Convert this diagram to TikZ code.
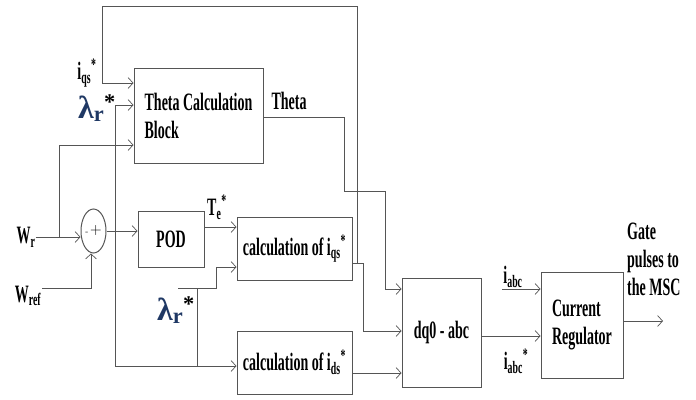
\documentclass[tikz,border=0pt]{standalone}
\usepackage{fontspec}
\newfontfamily\blockfont{Liberation Serif}[FakeStretch=0.56]
\newfontfamily\lamfont{Liberation Serif}
\usepackage{xcolor}
\usetikzlibrary{arrows.meta,shapes.geometric}
\definecolor{wiregray}{RGB}{85,85,85}
\definecolor{lamblue}{RGB}{31,56,100}
\newcommand{\lamr}{{\lamfont\bfseries\fontsize{32}{34}\selectfont\textcolor{lamblue}{λ\textsubscript{r}}\textsuperscript{*}}}
\tikzset{
  block/.style={draw=wiregray, line width=1pt, inner sep=0pt,
    font=\blockfont\bfseries\fontsize{25}{28}\selectfont},
  txt/.style={inner sep=0pt, font=\blockfont\bfseries\fontsize{25}{28}\selectfont},
  wire/.style={draw=wiregray, line width=1pt}
}

\begin{document}
\begin{tikzpicture}[x=1pt,y=-1pt,
  >={Straight Barb[length=5pt,width=11pt,line width=0.7pt]}]
\useasboundingbox (0,0) rectangle (696,399);

% blocks
\node[block, minimum width=129pt, minimum height=95pt, align=left] (theta) at (198.5,115.5) {Theta Calculation\\Block};
\node[block, minimum width=66pt, minimum height=56pt] (pod) at (171,239) {POD};
\node[block, minimum width=115pt, minimum height=63pt] (calcq) at (294.5,248.5) {calculation of i\textsubscript{qs}\textsuperscript{*}};
\node[block, minimum width=115pt, minimum height=63pt] (calcd) at (294.5,362.5) {calculation of i\textsubscript{ds}\textsuperscript{*}};
\node[block, minimum width=79pt, minimum height=109pt] (dq) at (441.5,332.5) {dq0 - abc};
\node[block, minimum width=82pt, minimum height=106pt, align=left] (cr) at (582,325) {Current\\Regulator};
\node[draw=wiregray, line width=1pt, ellipse, inner sep=0pt, minimum width=25pt, minimum height=44pt] (sum) at (93.5,231) {\fontsize{9}{9}\selectfont -\,\fontsize{16}{16}\selectfont +};

% labels
\node[txt] (iqslbl) at (87,73) {i\textsubscript{qs}\textsuperscript{*}};
\node[txt] (lamtop) at (97,108) {\lamr};
\node[txt] (thetalbl) at (289,101) {Theta};
\node[txt] (telbl) at (217,207) {T\textsubscript{e}\textsuperscript{*}};
\node[txt] (lamlow) at (176,310) {\lamr};
\node[txt] (wrlbl) at (26,237) {W\textsubscript{r}};
\node[txt] (wreflbl) at (28,296) {W\textsubscript{ref}};
\node[txt] (iabclbl) at (513,277) {i\textsubscript{abc}};
\node[txt] (iabcslbl) at (516,361) {i\textsubscript{abc}\textsuperscript{*}};
\node[txt, anchor=west, align=left] (gatelbl) at (627,259) {Gate\\pulses to\\the MSC};

\coordinate (wrefin) at (42,288);
\coordinate (lamin) at (178,288);
\coordinate (iabcin) at (502,289);
\coordinate (gateout) at (663,321);

% iqs* fed back to theta block and dq0
\draw[wire,->] (calcq.east |- 0,263) -- (357,263) -- (357,6) -- (102,6) -- (102,83) -- (theta.west |- 0,83);
\draw[wire,->] (357,263) -- (363,263) -- (363,331) -- (dq.west |- 0,331);
% theta
\draw[wire,->] (theta.east |- 0,117) -- (344,117) -- (344,191) -- (385,191) -- (385,289) -- (dq.west |- 0,289);
\draw[wire,->] (calcd.east |- 0,373) -- (dq.west |- 0,373);
\draw[wire,->] (dq.east |- 0,336) -- (cr.west |- 0,336);
\draw[wire,->] (iabcin) -- (cr.west |- iabcin);
\draw[wire,->] (cr.east |- gateout) -- (gateout);

% speed error
\draw[wire,->] (wrlbl.east) -- (sum.west |- wrlbl.east);
\draw[wire,->] (59,237) -- (59,145) -- (theta.west |- 0,145);
\draw[wire,->] (wrefin) -- (91,288) -- (91,0 |- sum.south);
\draw[wire,->] (sum.east) -- (pod.west |- sum.east);
\draw[wire,->] (pod.east |- 0,227) -- (calcq.west |- 0,227);

% flux reference
\draw[wire,->] (115,366) -- (115,105) -- (theta.west |- 0,105);
\draw[wire,->] (115,366) -- (calcd.west |- 0,366);
\draw[wire,->] (lamin) -- (216,288) -- (216,267) -- (calcq.west |- 0,267);
\draw[wire] (197,288) -- (197,366);
\end{tikzpicture}
\end{document}
